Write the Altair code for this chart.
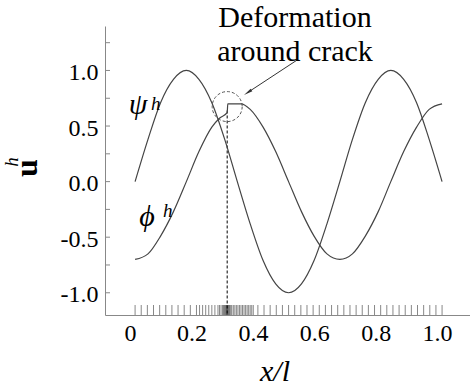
import altair as alt
import pandas as pd

SERIF = "Liberation Serif"

# ---- data ----
x_psi = [0, 0.042, 0.083, 0.125, 0.167, 0.208, 0.25, 0.292, 0.333, 0.375, 0.417, 0.458, 0.5,
         0.542, 0.583, 0.625, 0.667, 0.708, 0.75, 0.792, 0.833, 0.875, 0.917, 0.958, 1.0]
psi = [0, 0.38, 0.71, 0.92, 1.0, 0.92, 0.71, 0.38, 0, -0.38, -0.71, -0.92, -1.0,
       -0.92, -0.71, -0.38, 0, 0.38, 0.71, 0.92, 1.0, 0.92, 0.71, 0.38, 0]

x_phi = [0, 0.042, 0.083, 0.125, 0.167, 0.208, 0.25, 0.275, 0.30, 0.302, 0.345, 0.375, 0.417,
         0.458, 0.5, 0.542, 0.583, 0.625, 0.667, 0.708, 0.75, 0.792, 0.833, 0.875, 0.917, 0.958, 1.0]
phi = [-0.70, -0.65, -0.49, -0.27, 0, 0.27, 0.49, 0.57, 0.62, 0.70, 0.70, 0.65, 0.49,
       0.27, 0, -0.27, -0.49, -0.65, -0.70, -0.65, -0.49, -0.27, 0, 0.27, 0.49, 0.65, 0.70]

mesh_nodes = [0, 0.02, 0.04, 0.06, 0.08, 0.10, 0.12, 0.14, 0.16, 0.18, 0.20, 0.22, 0.24, 0.26,
              0.28, 0.30, 0.32, 0.34, 0.36, 0.38, 0.40, 0.42, 0.44, 0.46, 0.48, 0.50, 0.52,
              0.54, 0.56, 0.58, 0.60, 0.62, 0.64, 0.66, 0.68, 0.70, 0.72, 0.74, 0.76, 0.78,
              0.80, 0.82, 0.84, 0.86, 0.88, 0.90, 0.92, 0.94, 0.96, 0.98, 1.0,
              0.21, 0.23, 0.25, 0.27, 0.275, 0.285, 0.288, 0.291, 0.293, 0.295, 0.297, 0.298,
              0.299, 0.2995, 0.3005, 0.301, 0.302, 0.303, 0.305, 0.307, 0.309, 0.312, 0.315,
              0.325, 0.33, 0.335, 0.345, 0.35, 0.355, 0.365, 0.37, 0.375, 0.385]

x_label_values = [0, 0.2, 0.4, 0.6, 0.8, 1.0]
y_label_values = [-1.0, -0.5, 0.0, 0.5, 1.0]
y_minor_ticks = [-1.0, -0.75, -0.5, -0.25, 0.0, 0.25, 0.5, 0.75, 1.0, 1.25]

crack_x = [0.30]
crack_top = [0.64]
circle_x = [0.30]
circle_y = [0.675]
arrow_x = [0.528]
arrow_y = [1.094]
arrow_x2 = [0.367]
arrow_y2 = [0.802]

# ---- scales / axes ----
xs = alt.Scale(domain=[-0.098, 1.091], nice=False, zero=False)
ys = alt.Scale(domain=[-1.2, 1.4], nice=False, zero=False)

xaxis = alt.Axis(values=x_label_values, ticks=False, grid=False, domainColor="#888",
                 labelFont=SERIF, labelFontSize=24, labelColor="black", labelPadding=6,
                 labelOffset=-5, labelFlush=False, labelOverlap=False, title=None,
                 labelExpr="datum.value == 0 ? '0' : format(datum.value, '.1f')")
yaxis = alt.Axis(values=y_label_values, ticks=False, grid=False, domainColor="#888",
                 labelFont=SERIF, labelFontSize=24, labelColor="black", labelPadding=7,
                 labelOffset=2, labelFlush=False, labelOverlap=False, title=None,
                 labelExpr="replace(format(datum.value, '.1f'), '\u2212', '-')")


def X(f):
    return alt.X(f, scale=xs, axis=xaxis)


def Y(f):
    return alt.Y(f, scale=ys, axis=yaxis)


df_psi = pd.DataFrame({"x": x_psi, "y": psi})
df_phi = pd.DataFrame({"x": x_phi, "y": phi})

psi_line = alt.Chart(df_psi).mark_line(color="#444", strokeWidth=1.2, interpolate="monotone").encode(
    x=X("x:Q"), y=Y("y:Q"))
phi_line = alt.Chart(df_phi).mark_line(color="#444", strokeWidth=1.2, interpolate="monotone").encode(
    x=X("x:Q"), y=Y("y:Q"))

mesh = alt.Chart(pd.DataFrame({"m": mesh_nodes})).mark_rule(color="#555", opacity=0.7, strokeWidth=1).encode(
    x=X("m:Q"), y=alt.value(279), y2=alt.value(289))

yticks = alt.Chart(pd.DataFrame({"v": y_minor_ticks})).mark_rule(color="#888", strokeWidth=1).encode(
    y=Y("v:Q"), x=alt.value(0), x2=alt.value(5))

crack_line = alt.Chart(pd.DataFrame({"x": crack_x, "y": crack_top, "y2": [-1.2]})).mark_rule(
    color="black", strokeWidth=1, strokeDash=[3, 2]).encode(
    x=X("x:Q"), y=Y("y:Q"), y2="y2:Q")

circle = alt.Chart(pd.DataFrame({"x": circle_x, "y": circle_y})).mark_point(
    shape="circle", size=900, filled=False, color="#555", strokeWidth=1, strokeDash=[3, 2], opacity=1).encode(
    x=X("x:Q"), y=Y("y:Q"))

arrow_line = alt.Chart(pd.DataFrame({"x": arrow_x, "y": arrow_y, "x2": arrow_x2, "y2": arrow_y2})).mark_rule(
    color="#333", strokeWidth=1).encode(
    x=X("x:Q"), y=Y("y:Q"), x2="x2:Q", y2="y2:Q")
arrow_head = alt.Chart(pd.DataFrame({"x": arrow_x2, "y": arrow_y2})).mark_point(
    shape="M0,-1L0.35,1L-0.35,1Z", size=80, filled=True, color="#333", opacity=1, angle=237).encode(
    x=X("x:Q"), y=Y("y:Q"))


def txt(s, x, y, size, style=None, weight=None, align="center", angle=None):
    kw = dict(font=SERIF, fontSize=size, align=align, baseline="alphabetic", color="black")
    if style:
        kw["fontStyle"] = style
    if weight:
        kw["fontWeight"] = weight
    if angle is not None:
        kw["angle"] = angle
    return alt.Chart(pd.DataFrame({"t": [s]})).mark_text(**kw).encode(
        x=alt.value(x), y=alt.value(y), text="t:N")


texts = [
    txt("Deformation", 190, 1, 30),
    txt("around crack", 190, 35, 30),
    txt("\u03c8", 33, 88, 30, style="italic"),
    txt("h", 46, 84, 19, style="italic", align="left"),
    txt("\u03d5", 42, 200, 30, style="italic"),
    txt("h", 58, 191, 19, style="italic", align="left"),
    txt("u", -68, 142, 32, weight="bold", angle=270),
    txt("h", -87, 136, 19, style="italic", angle=270),
    txt("x/l", 170, 355, 30, style="italic"),
]

chart = alt.layer(
    mesh, yticks, crack_line, circle, psi_line, phi_line, arrow_line, arrow_head, *texts
).properties(
    width=365, height=289,
    padding={"left": 105, "top": 26, "right": 0, "bottom": 75},
    autosize=alt.AutoSizeParams(type="none"),
).configure_view(stroke=None)

chart.save("out.html", embed_options={"renderer": "svg", "actions": False})
